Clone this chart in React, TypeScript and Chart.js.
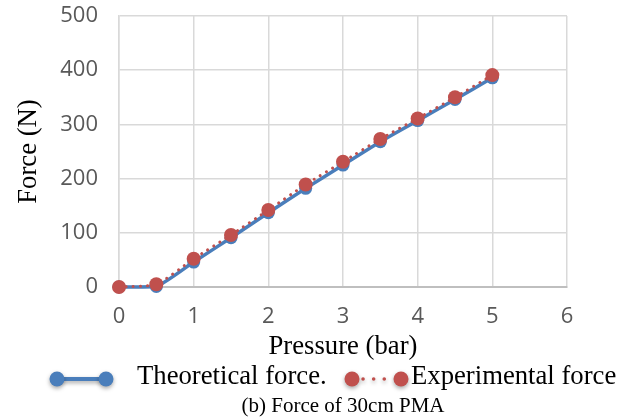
import React, { useEffect, useRef } from "react";
import { Chart, registerables } from "chart.js";

Chart.register(...registerables);

const pressure = [0, 0.5, 1, 1.5, 2, 2.5, 3, 3.5, 4, 4.5, 5];
const theoreticalForce = [0, 1, 46, 91, 137, 182, 225, 268, 307, 346, 386];
const experimentalForce = [0, 5, 52, 96, 142, 189, 231, 273, 311, 350, 391];
const seriesLabels = ["Theoretical force.", "Experimental force"];
const xTitle = "Pressure (bar)";
const yTitle = "Force (N)";
const caption = "(b) Force of 30cm PMA";

const BLUE = "#4A7EBB";
const RED = "#C0504D";
const SERIF = '"Liberation Serif", "Times New Roman", serif';
const SANS = '"Open Sans", "Liberation Sans", sans-serif';

const legendPlugin = {
  id: "customLegend",
  afterDraw(chart: any) {
    const ctx = chart.ctx;
    const ds = chart.data.datasets;
    const theo = ds.find((d: any) => d.label === seriesLabels[0]);
    const exp = ds.find((d: any) => d.label === seriesLabels[1]);
    const y = 379;
    ctx.save();
    ctx.shadowColor = "rgba(0,0,0,0.35)";
    ctx.shadowBlur = 4;
    ctx.shadowOffsetY = 2;
    ctx.strokeStyle = theo.borderColor;
    ctx.lineWidth = 4;
    ctx.beginPath();
    ctx.moveTo(57, y);
    ctx.lineTo(106, y);
    ctx.stroke();
    ctx.fillStyle = theo.pointBackgroundColor;
    [57, 106].forEach((cx) => {
      ctx.beginPath();
      ctx.arc(cx, y, 7.5, 0, Math.PI * 2);
      ctx.fill();
    });
    ctx.strokeStyle = exp.borderColor;
    ctx.lineWidth = 3.5;
    ctx.lineCap = "round";
    ctx.setLineDash([0.1, 10.5]);
    ctx.beginPath();
    ctx.moveTo(363, y);
    ctx.lineTo(390, y);
    ctx.stroke();
    ctx.setLineDash([]);
    ctx.fillStyle = exp.pointBackgroundColor;
    [352, 401].forEach((cx) => {
      ctx.beginPath();
      ctx.arc(cx, y, 7.5, 0, Math.PI * 2);
      ctx.fill();
    });
    ctx.restore();

    ctx.save();
    ctx.fillStyle = "#000";
    ctx.textBaseline = "alphabetic";
    ctx.textAlign = "left";
    ctx.font = `26.7px ${SERIF}`;
    ctx.fillText(theo.label, 137, 384);
    ctx.fillText(exp.label, 411, 384);
    ctx.font = `21px ${SERIF}`;
    ctx.textAlign = "center";
    const ca = chart.chartArea;
    ctx.fillText(caption, (ca.left + ca.right) / 2, 412);
    ctx.restore();
  },
};

export default function App() {
  const ref = useRef<HTMLCanvasElement | null>(null);
  useEffect(() => {
    document.body.style.margin = "0";
    const canvas = ref.current!;
    const chart = new Chart(canvas, {
      type: "line",
      data: {
        datasets: [
          {
            label: seriesLabels[1],
            data: pressure.map((p, i) => ({ x: p, y: experimentalForce[i] })),
            borderColor: RED,
            backgroundColor: RED,
            pointBackgroundColor: RED,
            pointBorderColor: RED,
            borderWidth: 3,
            borderDash: [0.1, 7],
            borderCapStyle: "round",
            pointRadius: 7,
            pointBorderWidth: 0,
            tension: 0.2,
            clip: false,
          },
          {
            label: seriesLabels[0],
            data: pressure.map((p, i) => ({ x: p, y: theoreticalForce[i] })),
            borderColor: BLUE,
            backgroundColor: BLUE,
            pointBackgroundColor: BLUE,
            pointBorderColor: BLUE,
            borderWidth: 3.5,
            pointRadius: 6.5,
            pointBorderWidth: 0,
            tension: 0.2,
            clip: false,
          },
        ],
      },
      options: {
        responsive: false,
        animation: false,
        layout: { padding: { left: 0, top: 16, right: 68, bottom: 56 } },
        plugins: {
          legend: { display: false },
          tooltip: { enabled: false },
        },
        scales: {
          x: {
            type: "linear",
            min: 0,
            max: 6,
            ticks: {
              stepSize: 1,
              color: "#595959",
              font: { family: SANS, size: 22 },
              padding: 17,
            },
            grid: { color: "#d9d9d9", lineWidth: 1.5, drawTicks: false },
            border: { color: "#bfbfbf", width: 2 },
            title: {
              display: true,
              text: xTitle,
              color: "#000",
              font: { family: SERIF, size: 26.7 },
              padding: { top: 0, bottom: 0 },
            },
            afterFit(scale: any) {
              scale.height = 76;
              scale.paddingLeft = 0;
              scale.paddingRight = 0;
            },
          },
          y: {
            type: "linear",
            min: 0,
            max: 500,
            ticks: {
              stepSize: 100,
              color: "#595959",
              font: { family: SANS, size: 22 },
              padding: 21,
            },
            grid: { color: "#d9d9d9", lineWidth: 1.5, drawTicks: false },
            border: { color: "#d9d9d9", width: 1.5 },
            title: {
              display: true,
              text: yTitle,
              color: "#000",
              font: { family: SERIF, size: 26.7 },
              padding: { top: 13, bottom: 0 },
            },
            afterFit(scale: any) {
              scale.width = 119;
              scale.paddingTop = 0;
              scale.paddingBottom = 0;
            },
          },
        },
      },
      plugins: [legendPlugin],
    });
    return () => chart.destroy();
  }, []);
  return (
    <div style={{ width: 635, height: 419 }}>
      <canvas ref={ref} width={635} height={419} />
    </div>
  );
}
